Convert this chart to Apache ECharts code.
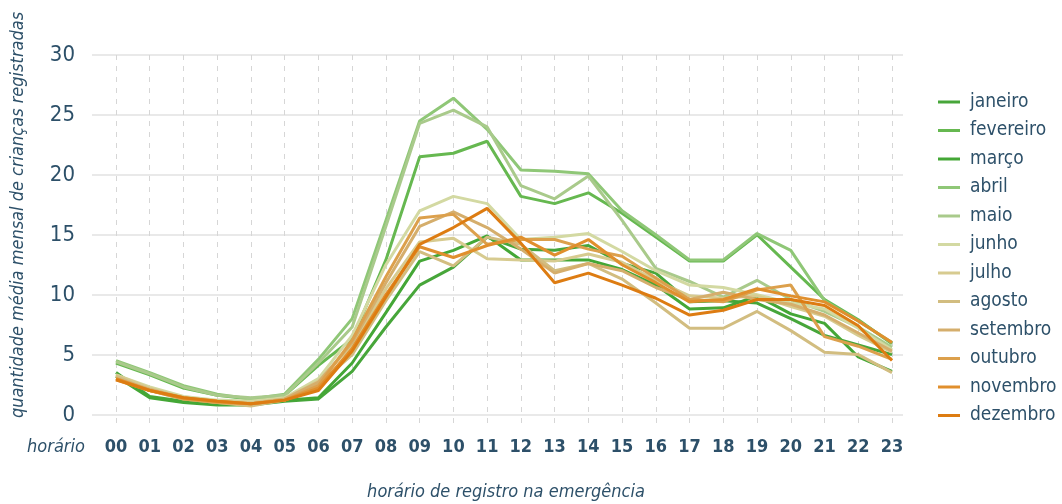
<!DOCTYPE html>
<html>
<head>
<meta charset="utf-8">
<script src="https://cdn.jsdelivr.net/npm/echarts@6/dist/echarts.min.js"></script>
<style>html,body{margin:0;padding:0;background:#fff}#c{width:1062px;height:504px}</style>
</head>
<body>
<div id="c"></div>
<script>
const hours = ['00','01','02','03','04','05','06','07','08','09','10','11','12','13','14','15','16','17','18','19','20','21','22','23'];
const yTicks = [0, 5, 10, 15, 20, 25, 30];
const months = ['janeiro','fevereiro','março','abril','maio','junho','julho','agosto','setembro','outubro','novembro','dezembro'];
const colors = ['#47a63a','#66b850','#44a736','#8fc777','#a9ca8b','#d3d9a2','#d7cb90','#d2bd80','#d5ae6c','#dca04c','#e08f2d','#dd7c12'];

const janeiro   = [3.5, 1.5, 1.1, 0.9, 0.8, 1.1, 1.3, 3.6, 7.3, 10.8, 12.3, 14.8, 13.8, 13.7, 14.1, 12.6, 11.8, 9.4, 9.5, 9.3, 8.0, 6.6, 5.8, 5.0];
const fevereiro = [4.3, 3.3, 2.2, 1.6, 1.3, 1.6, 4.1, 6.3, 12.9, 21.5, 21.8, 22.8, 18.2, 17.6, 18.5, 16.8, 14.8, 12.8, 12.8, 15.0, 12.3, 9.6, 7.9, 5.9];
const marco     = [3.2, 1.4, 1.0, 0.8, 0.8, 1.2, 1.4, 4.3, 8.5, 12.8, 13.7, 14.9, 12.9, 12.9, 12.9, 12.1, 10.8, 8.8, 8.9, 9.9, 8.4, 7.6, 4.8, 3.6];
const abril     = [4.5, 3.5, 2.4, 1.7, 1.3, 1.7, 4.6, 8.0, 16.2, 24.5, 26.4, 23.8, 20.4, 20.3, 20.1, 17.0, 15.0, 12.9, 12.9, 15.1, 13.7, 9.5, 7.8, 6.0];
const maio      = [4.4, 3.4, 2.3, 1.6, 1.4, 1.6, 4.3, 7.3, 15.7, 24.3, 25.4, 24.0, 19.1, 18.0, 19.9, 16.2, 12.2, 11.1, 9.8, 11.2, 9.6, 8.6, 7.3, 5.6];
const junho     = [3.3, 2.3, 1.5, 1.2, 1.1, 1.4, 3.0, 6.6, 12.5, 17.0, 18.2, 17.6, 14.6, 14.8, 15.1, 13.6, 12.0, 10.8, 10.6, 10.0, 9.3, 8.8, 7.2, 5.4];
const julho     = [3.3, 2.2, 1.4, 1.1, 1.0, 1.3, 2.8, 5.8, 10.5, 14.4, 14.7, 13.0, 12.9, 12.8, 13.4, 12.7, 11.2, 9.9, 9.7, 9.9, 9.0, 8.2, 6.6, 5.2];
const agosto    = [3.2, 2.0, 1.3, 1.0, 0.7, 1.2, 2.5, 5.0, 9.5, 13.6, 12.4, 14.8, 14.2, 12.0, 12.6, 11.3, 9.3, 7.2, 7.2, 8.6, 7.0, 5.2, 5.0, 3.5];
const setembro  = [3.0, 2.1, 1.4, 1.0, 0.9, 1.3, 2.7, 6.0, 11.0, 15.7, 16.9, 15.6, 13.8, 11.8, 12.6, 12.0, 10.6, 9.6, 10.2, 9.6, 9.2, 8.3, 6.8, 5.3];
const outubro   = [2.9, 2.0, 1.3, 1.0, 0.9, 1.2, 2.4, 6.2, 11.5, 16.4, 16.7, 14.2, 14.6, 14.6, 13.8, 13.2, 11.4, 9.6, 9.4, 10.4, 10.8, 6.5, 5.7, 4.6];
const novembro  = [3.0, 2.0, 1.4, 1.1, 0.9, 1.2, 2.2, 5.5, 10.0, 14.0, 13.1, 14.1, 14.8, 13.3, 14.6, 12.5, 11.0, 9.4, 9.6, 10.5, 9.9, 9.4, 7.8, 6.0];
const dezembro  = [2.9, 2.0, 1.4, 1.1, 0.9, 1.2, 2.0, 5.3, 9.8, 14.2, 15.6, 17.2, 14.3, 11.0, 11.8, 10.8, 9.7, 8.3, 8.7, 9.6, 9.6, 9.1, 7.4, 4.5];

const values = [janeiro, fevereiro, marco, abril, maio, junho, julho, agosto, setembro, outubro, novembro, dezembro];

const FONT = '"DejaVu Sans Condensed", "Liberation Sans Narrow", "Roboto", sans-serif';
const TXT = '#2d5069';

const chart = echarts.init(document.getElementById('c'), null, {renderer: 'canvas'});
chart.setOption({
  animation: false,
  backgroundColor: '#fff',
  grid: [
    {left: 92, right: 159, top: 55, bottom: 89},
    {left: 116, right: 170, top: 55, bottom: 79}
  ],
  xAxis: [
    {gridIndex: 0, type: 'value', min: 0, max: 1, show: false},
    {gridIndex: 1, type: 'category', data: hours, boundaryGap: false,
     axisLine: {show: false}, axisTick: {show: false},
     axisLabel: {color: TXT, fontSize: 18, fontWeight: 'bold', fontFamily: FONT, margin: 13},
     splitLine: {show: true, lineStyle: {color: '#d6d6d6', width: 1, type: [5, 6]}}}
  ],
  yAxis: [
    {gridIndex: 0, type: 'value', min: yTicks[0], max: yTicks[yTicks.length - 1], interval: 5,
     axisLine: {show: false}, axisTick: {show: false},
     axisLabel: {color: TXT, fontSize: 22, fontFamily: FONT, margin: 17},
     splitLine: {show: true, lineStyle: {color: '#e2e2e2', width: 1.5}}},
    {gridIndex: 1, type: 'value', min: -0.876, max: 30, show: false, splitLine: {show: false}}
  ],
  legend: {
    orient: 'vertical', left: 938, top: 92, padding: 0,
    icon: 'rect', itemWidth: 22, itemHeight: 3, itemGap: 8.5,
    textStyle: {color: TXT, fontSize: 19, fontFamily: FONT, lineHeight: 20, padding: [0, 0, 0, 5]},
    data: months
  },
  graphic: [
    {type: 'text', x: 18, y: 215, rotation: Math.PI / 2,
     style: {text: 'quantidade média mensal de crianças registradas', fill: TXT, fontSize: 18, fontStyle: 'italic', fontFamily: FONT, align: 'center', verticalAlign: 'middle'}},
    {type: 'text', x: 56, y: 447,
     style: {text: 'horário', fill: TXT, fontSize: 18, fontStyle: 'italic', fontFamily: FONT, align: 'center', verticalAlign: 'middle'}},
    {type: 'text', x: 506, y: 492,
     style: {text: 'horário de registro na emergência', fill: TXT, fontSize: 18, fontStyle: 'italic', fontFamily: FONT, align: 'center', verticalAlign: 'middle'}}
  ],
  series: months.map((m, i) => ({
    name: m, type: 'line', xAxisIndex: 1, yAxisIndex: 1,
    data: values[i], showSymbol: false, symbol: 'none',
    lineStyle: {width: 3, color: colors[i]}, itemStyle: {color: colors[i]},
    z: 2
  }))
});
</script>
</body>
</html>
